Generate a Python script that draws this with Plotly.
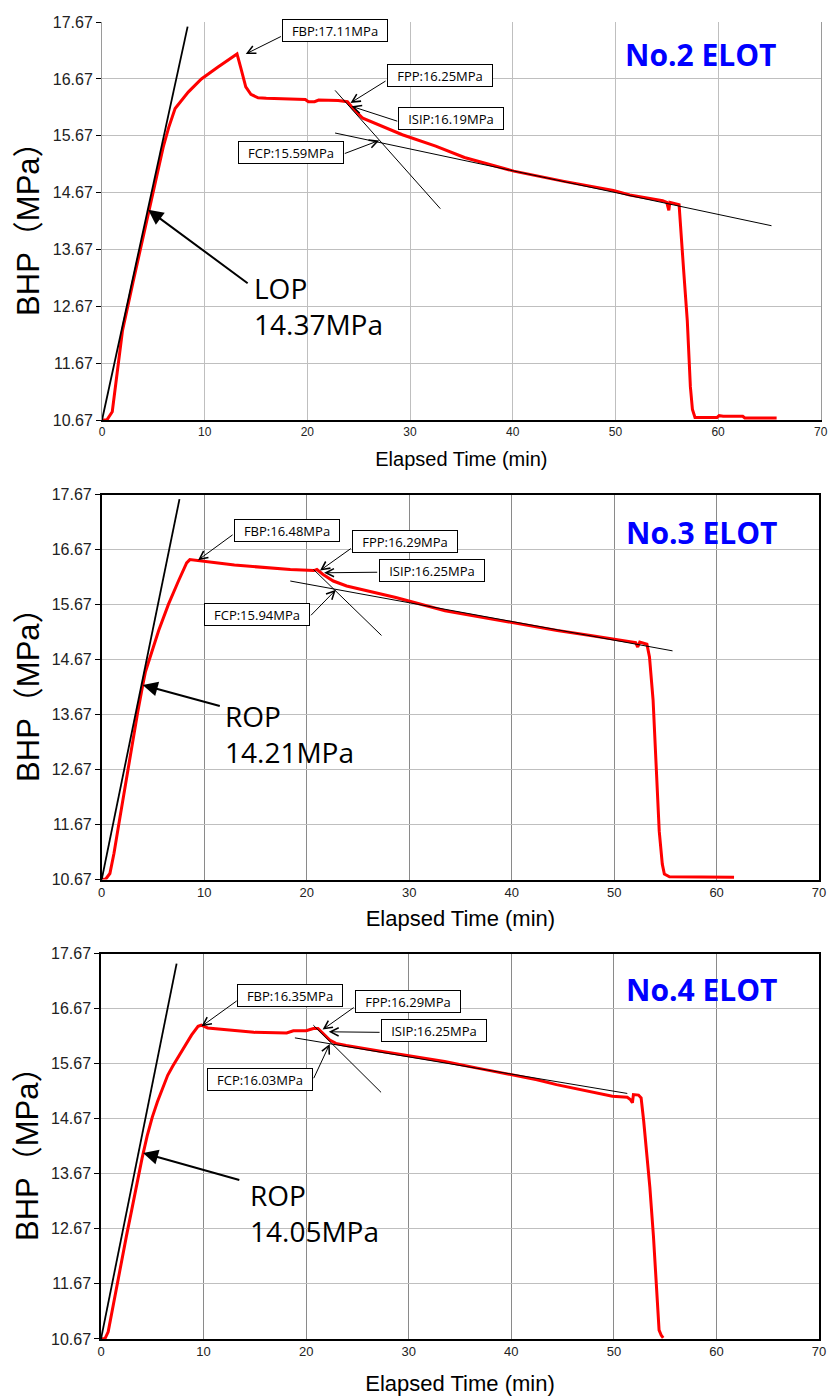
import plotly.graph_objects as go

# ---------------------------------------------------------------------------
# Bottom-hole pressure records (elapsed time in min, BHP in MPa)
# ---------------------------------------------------------------------------
no2_time = [0.0, 0.5, 1.0, 1.35, 2.0, 3.0, 4.0, 4.5, 5.0, 5.5, 6.0, 6.5, 7.12, 8.4, 9.68,
            11.3, 12.3, 12.9, 13.15, 13.5, 14.0, 14.5, 15.2, 16.0, 18.0, 19.8, 20.1, 20.7,
            21.1, 23.0, 23.9, 24.45, 25.4, 27.0, 29.25, 32.5, 35.3, 40.1, 43.7, 45.0, 49.8,
            51.4, 54.6, 55.0, 55.2, 55.3, 56.2, 56.3, 56.65, 57.0, 57.3, 57.5, 57.75, 59.9,
            60.1, 60.5, 62.4, 62.6, 65.7]
no2_bhp = [10.67, 10.68, 10.82, 11.32, 12.25, 13.08, 13.90, 14.33, 14.72, 15.12, 15.50, 15.82,
           16.15, 16.44, 16.67, 16.88, 17.00, 17.07, 17.11, 16.88, 16.53, 16.40, 16.34, 16.33,
           16.32, 16.31, 16.27, 16.27, 16.30, 16.29, 16.27, 16.15, 15.98, 15.86, 15.69, 15.49,
           15.29, 15.05, 14.91, 14.87, 14.71, 14.63, 14.53, 14.50, 14.36, 14.50, 14.46, 14.16,
           13.29, 12.42, 11.26, 10.86, 10.72, 10.72, 10.75, 10.74, 10.74, 10.71, 10.71]

no3_time = [0.0, 0.4, 0.8, 1.2, 1.6, 2.0, 2.5, 3.0, 3.5, 4.0, 4.27, 5.56, 6.52, 7.49, 8.29,
            8.6, 9.74, 11.35, 12.95, 16.17, 18.4, 20.7, 21.0, 21.6, 22.6, 23.9, 25.8, 28.7,
            33.5, 39.95, 44.45, 47.7, 50.1, 52.1, 52.3, 52.5, 53.2, 53.45, 53.8, 54.1, 54.4,
            54.7, 54.9, 55.4, 61.7]
no3_bhp = [10.67, 10.68, 10.78, 11.15, 11.60, 12.05, 12.60, 13.15, 13.70, 14.20, 14.45, 15.20,
           15.68, 16.10, 16.43, 16.49, 16.47, 16.43, 16.39, 16.34, 16.31, 16.29, 16.31, 16.22,
           16.10, 16.01, 15.93, 15.80, 15.56, 15.35, 15.20, 15.11, 15.04, 14.98, 14.90, 14.99,
           14.95, 14.72, 13.94, 12.75, 11.55, 10.95, 10.77, 10.72, 10.71]

no4_time = [0.0, 0.4, 0.7, 1.0, 1.5, 2.0, 2.5, 3.0, 3.5, 4.0, 4.5, 5.0, 5.5, 6.0, 6.5, 7.0,
            7.54, 8.2, 8.82, 9.46, 9.78, 10.4, 12.98, 14.9, 18.1, 18.75, 20.0, 20.7, 21.15,
            21.6, 22.3, 22.9, 23.9, 27.1, 30.3, 33.5, 36.7, 39.9, 42.5, 44.4, 47.6, 49.85,
            51.3, 51.6, 51.8, 51.9, 52.4, 52.65, 52.9, 53.2, 53.5, 53.85, 54.2, 54.4, 54.6, 54.8]
no4_bhp = [10.67, 10.68, 10.80, 11.10, 11.62, 12.10, 12.56, 13.02, 13.50, 13.95, 14.36, 14.70,
           14.98, 15.24, 15.46, 15.63, 15.80, 16.00, 16.19, 16.35, 16.37, 16.32, 16.28, 16.24,
           16.23, 16.27, 16.27, 16.31, 16.31, 16.22, 16.10, 16.04, 16.00, 15.90, 15.81, 15.71,
           15.59, 15.48, 15.38, 15.29, 15.17, 15.08, 15.06, 15.02, 14.96, 15.11, 15.10, 15.05,
           14.63, 14.03, 13.43, 12.54, 11.34, 10.83, 10.74, 10.69]

# Straight-line fits used for the picks: [start, end]
no2_onset_fit_t, no2_onset_fit_p = [0.0, 8.34], [10.67, 17.59]
no2_isip_fit_t, no2_isip_fit_p = [22.7, 32.95], [16.47, 14.39]
no2_fcp_fit_t, no2_fcp_fit_p = [22.7, 65.2], [15.72, 14.09]

no3_onset_fit_t, no3_onset_fit_p = [0.0, 7.59], [10.67, 17.59]
no3_isip_fit_t, no3_isip_fit_p = [20.67, 27.3], [16.31, 15.11]
no3_fcp_fit_t, no3_fcp_fit_p = [18.4, 55.7], [16.10, 14.83]

no4_onset_fit_t, no4_onset_fit_p = [0.0, 7.37], [10.67, 17.49]
no4_isip_fit_t, no4_isip_fit_p = [20.7, 27.3], [16.37, 15.15]
no4_fcp_fit_t, no4_fcp_fit_p = [18.9, 51.3], [16.14, 15.13]

# Picked pressures (MPa) and the times they are read at
test_names = ["No.2 ELOT", "No.3 ELOT", "No.4 ELOT"]
onset_names = ["LOP", "ROP", "ROP"]
onset_p = [14.37, 14.21, 14.05]
onset_t = [4.5, 4.0, 4.1]
fbp_p = [17.11, 16.48, 16.35]
fbp_t = [14.0, 9.4, 9.8]
fpp_p = [16.25, 16.29, 16.29]
fpp_t = [24.2, 21.3, 21.6]
isip_p = [16.19, 16.25, 16.25]
isip_t = [24.3, 21.7, 22.2]
fcp_p = [15.59, 15.94, 16.03]
fcp_t = [27.0, 22.85, 22.3]

y_ticks = [10.67, 11.67, 12.67, 13.67, 14.67, 15.67, 16.67, 17.67]

# ---------------------------------------------------------------------------
# Layout helpers
# ---------------------------------------------------------------------------
W, H = 834, 1398
# plot-area pixel boxes: (left, right, top, bottom)
panel_px = [(99.3, 827.7, 14.3, 417.3), (99.0, 826.0, 492.7, 882.3), (98.3, 826.0, 957.3, 1347.3)]
x_title_size = [20, 22, 22]
x_title_standoff = [14, 12, 17]

# label box centres, arrow tails and callout anchors (data units of each panel)
fbp_box = [(22.66, 17.52), (18.05, 17.01), (18.45, 16.91)]
fbp_tail = [(17.57, 17.43), (12.92, 16.96), (13.37, 16.83)]
fpp_box = [(32.9, 16.73), (29.6, 16.81), (29.9, 16.80)]
fpp_tail = [(27.76, 16.65), (24.46, 16.71), (24.78, 16.71)]
isip_box = [(34.0, 15.97), (32.2, 16.29), (32.5, 16.28)]
isip_tail = [(28.9, 15.92), (27.03, 16.26), (27.3, 16.24)]
fcp_box = [(18.43, 15.375), (15.14, 15.49), (15.52, 15.39)]
fcp_tail = [(23.5, 15.35), (20.28, 15.45), (20.67, 15.38)]
onset_tail = [(14.33, 13.06), (11.67, 13.82), (13.63, 13.55)]
onset_text = [(14.6, 12.67), (11.8, 13.31), (14.35, 12.96)]
title_pos = [(58.3, 17.10), (58.5, 16.98), (58.5, 17.01)]

series = [
    (no2_time, no2_bhp, [(no2_onset_fit_t, no2_onset_fit_p, 1.8), (no2_isip_fit_t, no2_isip_fit_p, 1.0),
                         (no2_fcp_fit_t, no2_fcp_fit_p, 1.0)]),
    (no3_time, no3_bhp, [(no3_onset_fit_t, no3_onset_fit_p, 1.8), (no3_isip_fit_t, no3_isip_fit_p, 1.0),
                         (no3_fcp_fit_t, no3_fcp_fit_p, 1.0)]),
    (no4_time, no4_bhp, [(no4_onset_fit_t, no4_onset_fit_p, 1.8), (no4_isip_fit_t, no4_isip_fit_p, 1.0),
                         (no4_fcp_fit_t, no4_fcp_fit_p, 1.0)]),
]

fig = go.Figure()
annotations = []
LABEL_FONT = dict(family="Open Sans, Noto Sans, sans-serif", size=13, color="black")
BIG_FONT = dict(family="Open Sans, Noto Sans, sans-serif", size=28, color="black")

for i, (t, p, fits) in enumerate(series):
    n = "" if i == 0 else str(i + 1)
    xa, ya = "x" + n, "y" + n
    fig.add_trace(go.Scatter(x=t, y=p, mode="lines", xaxis=xa, yaxis=ya,
                             line=dict(color="#FF0000", width=3), hoverinfo="skip"))
    for ft, fp, lw in fits:
        fig.add_trace(go.Scatter(x=ft, y=fp, mode="lines", xaxis=xa, yaxis=ya,
                                 line=dict(color="black", width=lw), hoverinfo="skip"))

    # boxed pick labels with thin pointer arrows
    picks = [
        ("FBP", fbp_p[i], fbp_t[i], fbp_box[i], fbp_tail[i]),
        ("FPP", fpp_p[i], fpp_t[i], fpp_box[i], fpp_tail[i]),
        ("ISIP", isip_p[i], isip_t[i], isip_box[i], isip_tail[i]),
        ("FCP", fcp_p[i], fcp_t[i], fcp_box[i], fcp_tail[i]),
    ]
    for name, val, tt, box, tail in picks:
        annotations.append(dict(xref=xa, yref=ya, x=tt, y=val, axref=xa, ayref=ya,
                                ax=tail[0], ay=tail[1], text="", showarrow=True,
                                arrowhead=5, arrowsize=1.6, arrowwidth=1, arrowcolor="black",
                                standoff=0, startstandoff=0))
        annotations.append(dict(xref=xa, yref=ya, x=box[0], y=box[1],
                                text=f"{name}:{val:.2f}MPa", showarrow=False, font=LABEL_FONT,
                                bgcolor="white", bordercolor="black", borderwidth=1,
                                borderpad=2, width=100, height=17, align="center"))

    # leak-off / re-opening pressure callout
    annotations.append(dict(xref=xa, yref=ya, x=onset_t[i], y=onset_p[i], axref=xa, ayref=ya,
                            ax=onset_tail[i][0], ay=onset_tail[i][1], text="", showarrow=True,
                            arrowhead=2, arrowsize=1.5, arrowwidth=2, arrowcolor="black",
                            standoff=0, startstandoff=0))
    annotations.append(dict(xref=xa, yref=ya, x=onset_text[i][0], y=onset_text[i][1],
                            text=f"{onset_names[i]}<br>{onset_p[i]:.2f}MPa", showarrow=False,
                            xanchor="left", yanchor="middle", align="left", font=BIG_FONT))

    # test name
    annotations.append(dict(xref=xa, yref=ya, x=title_pos[i][0], y=title_pos[i][1],
                            text=f"<b>{test_names[i]}</b>", showarrow=False,
                            xanchor="center", yanchor="middle",
                            font=dict(family="Open Sans, Noto Sans, sans-serif", size=30,
                                      color="#0000FF")))

    left, right, top, bottom = panel_px[i]
    boxed = i > 0
    vgrid = "#BFBFBF" if i == 0 else "#8A8A8A"
    fig.update_layout(**{
        ("xaxis" + n): dict(
            domain=[left / W, right / W], anchor=ya, range=[0, 70], tick0=0, dtick=10,
            showgrid=True, gridcolor=vgrid, gridwidth=1, zeroline=False,
            showline=True, linecolor="black", linewidth=1.5, mirror=boxed,
            ticks="", tickfont=dict(size=12 if i == 0 else 13, color="#222"),
            title=dict(text="Elapsed Time (min)",
                       font=dict(size=x_title_size[i], color="black"),
                       standoff=x_title_standoff[i]),
            fixedrange=True),
        ("yaxis" + n): dict(
            domain=[1 - bottom / H, 1 - top / H], anchor=xa, range=[10.67, 17.67],
            tickvals=y_ticks, tickformat=".2f",
            showgrid=True, gridcolor="#BFBFBF", gridwidth=1, zeroline=False,
            showline=True, linecolor="#9A9A9A" if i == 0 else "black",
            linewidth=1 if i == 0 else 1.5, mirror=True,
            ticks="outside", ticklen=5, tickcolor="black",
            tickfont=dict(size=16, color="#222"),
            title=dict(text="BHP（MPa）",
                       font=dict(size=31, color="black",
                                 family="Liberation Sans, Noto Sans CJK SC, sans-serif"),
                       standoff=3),
            fixedrange=True),
    })

fig.update_layout(
    width=W, height=H, autosize=False,
    margin=dict(l=0, r=0, t=0, b=0, pad=0),
    paper_bgcolor="white", plot_bgcolor="white",
    showlegend=False,
    font=dict(family="Liberation Sans, Arial, Noto Sans CJK SC, sans-serif", color="black"),
    annotations=annotations,
)

fig.write_html("out.html")
